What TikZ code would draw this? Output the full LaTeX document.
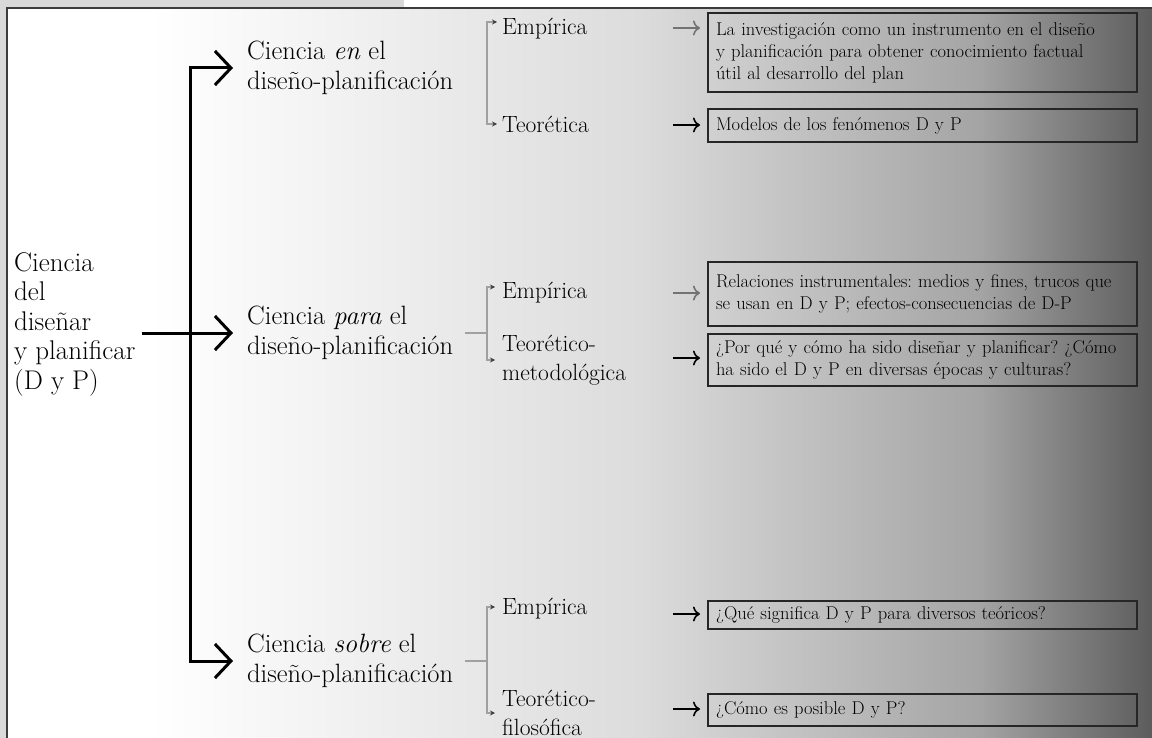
\documentclass[tikz,border=0pt]{standalone}
\usetikzlibrary{arrows.meta,positioning,calc}

\definecolor{framegray}{HTML}{D9D9D9}
\definecolor{framedark}{HTML}{3C3C3C}
\definecolor{shadeA}{HTML}{DCDCDC}
\definecolor{shadeB}{HTML}{A4A4A4}
\definecolor{shadeC}{HTML}{5C5C5C}
\definecolor{brackgray}{HTML}{A0A0A0}

\tikzset{
  rootlabel/.style={anchor=west, align=left, inner sep=0pt, font=\fontsize{27}{29.5}\selectfont},
  branchlabel/.style={anchor=west, align=left, inner xsep=11pt, inner ysep=0pt, font=\fontsize{26.5}{29.5}\selectfont},
  leaflabel/.style={anchor=west, align=left, inner sep=0pt, font=\fontsize{23.5}{29}\selectfont},
  notebox/.style={draw=black!85, line width=2pt, anchor=north west, align=left, text width=413pt,
    inner xsep=8pt, inner ysep=0pt, font=\fontsize{18.5}{22}\selectfont\frenchspacing},
  spine/.style={line width=3pt, shorten >=3pt, shorten <=3pt,
    {Straight Barb[length=16pt,width=34pt]}-{Straight Barb[length=16pt,width=34pt]}},
  mainarrow/.style={line width=3pt, shorten >=3pt, -{Straight Barb[length=16pt,width=34pt]}},
  notearrow/.style={line width=1.6pt, -{Computer Modern Rightarrow[length=7pt,width=15pt]}},
  bracket/.style={brackgray, line width=1.5pt,
    {Stealth[length=5pt,width=5pt,black!75]}-{Stealth[length=5pt,width=5pt,black!75]}},
  bracketline/.style={brackgray, line width=1.5pt}
}

\begin{document}
\begin{tikzpicture}[x=1pt,y=-1pt]
  \useasboundingbox (0,0) rectangle (1152,738);

  % frame and background
  \fill[framegray] (0,0) rectangle (404,8);
  \fill[framegray] (0,0) rectangle (7,738);
  \fill[white] (7,8) rectangle (150.5,738);
  \shade[left color=white, right color=shadeA] (150,8) rectangle (640.5,738);
  \shade[left color=shadeA, right color=shadeB] (640,8) rectangle (980.5,738);
  \shade[left color=shadeB, right color=shadeC] (980,8) rectangle (1152,738);
  \draw[framedark, line width=2.5pt] (7,738) -- (7,8) -- (1152,8);

  % root and first level
  \node[rootlabel] (r) at (14,324) {Ciencia\\del\\diseñar\\y planificar\\(D y P)};
  \node[branchlabel] (c1) at (236,68) {Ciencia \textit{en} el\\diseño-planificación};
  \node[branchlabel] (c2) at (236,333) {Ciencia \textit{para} el\\diseño-planificación};
  \node[branchlabel] (c3) at (236,661) {Ciencia \textit{sobre} el\\diseño-planificación};

  \coordinate (sp) at (190,0);
  \draw[spine] (c1.west) -| (sp |- c3.west) -- (c3.west);
  \draw[mainarrow] ([xshift=6pt]r.east |- c2.west) -- (c2.west);

  % second level
  \node[leaflabel] (e1) at (502,29) {Empírica};
  \node[leaflabel] (t1) at (502,124) {Teorética};
  \node[leaflabel] (e2) at (502,293) {Empírica};
  \node[leaflabel] (t2) at (502,360) {Teorético-\\metodológica};
  \node[leaflabel] (e3) at (502,609) {Empírica};
  \node[leaflabel] (t3) at (502,713) {Teorético-\\filosófica};

  \draw[bracket] ($(e1.west)+(-5,-7)$) -- ++(-10,0) |- ($(t1.west)+(-5,0)$);
  \draw[bracket] ($(e2.west)+(-7,-6)$) -- ++(-8,0) |- ($(t2.west)+(-7,0)$);
  \draw[bracket] ($(e3.west)+(-7,-2)$) -- ++(-8,0) |- ($(t3.west)+(-7,0)$);
  \coordinate (k2) at ($(e2.west)+(-15,0)$);
  \coordinate (k3) at ($(e3.west)+(-15,0)$);
  \draw[bracketline] ([xshift=1pt]c2.east) -- (k2 |- c2.east);
  \draw[bracketline] ([xshift=1pt]c3.east) -- (k3 |- c3.east);

  % boxes
  \node[notebox, minimum height=79pt] (b1) at (707,12) {La investigación como un instrumento en el diseño\\y planificación para obtener conocimiento factual\\útil al desarrollo del plan};
  \node[notebox, minimum height=33pt] (b2) at (707,108) {Modelos de los fenómenos D y P};
  \node[notebox, minimum height=64pt] (b3) at (707,261) {Relaciones instrumentales: medios y fines, trucos que\\se usan en D y P; efectos-consecuencias de D-P};
  \node[notebox, minimum height=52pt] (b4) at (707,333) {¿Por qué y cómo ha sido diseñar y planificar? ¿Cómo\\ha sido el D y P en diversas épocas y culturas?};
  \node[notebox, minimum height=28pt] (b5) at (707,600) {¿Qué significa D y P para diversos teóricos?};
  \node[notebox, minimum height=32pt] (b6) at (707,693) {¿Cómo es posible D y P?};

  \draw[notearrow, black!55] ($(b1.west |- e1)+(-34,-1)$) -- ($(b1.west |- e1)+(-7,-1)$);
  \draw[notearrow] ($(b2.west |- t1)+(-34,1)$) -- ($(b2.west |- t1)+(-7,1)$);
  \draw[notearrow, black!55] ($(b3.west |- e2)+(-34,0)$) -- ($(b3.west |- e2)+(-7,0)$);
  \draw[notearrow] ($(b4.west |- t2)+(-34,-2)$) -- ($(b4.west |- t2)+(-7,-2)$);
  \draw[notearrow] ($(b5.west |- e3)+(-34,5)$) -- ($(b5.west |- e3)+(-7,5)$);
  \draw[notearrow] ($(b6.west |- t3)+(-34,-4)$) -- ($(b6.west |- t3)+(-7,-4)$);
\end{tikzpicture}
\end{document}
